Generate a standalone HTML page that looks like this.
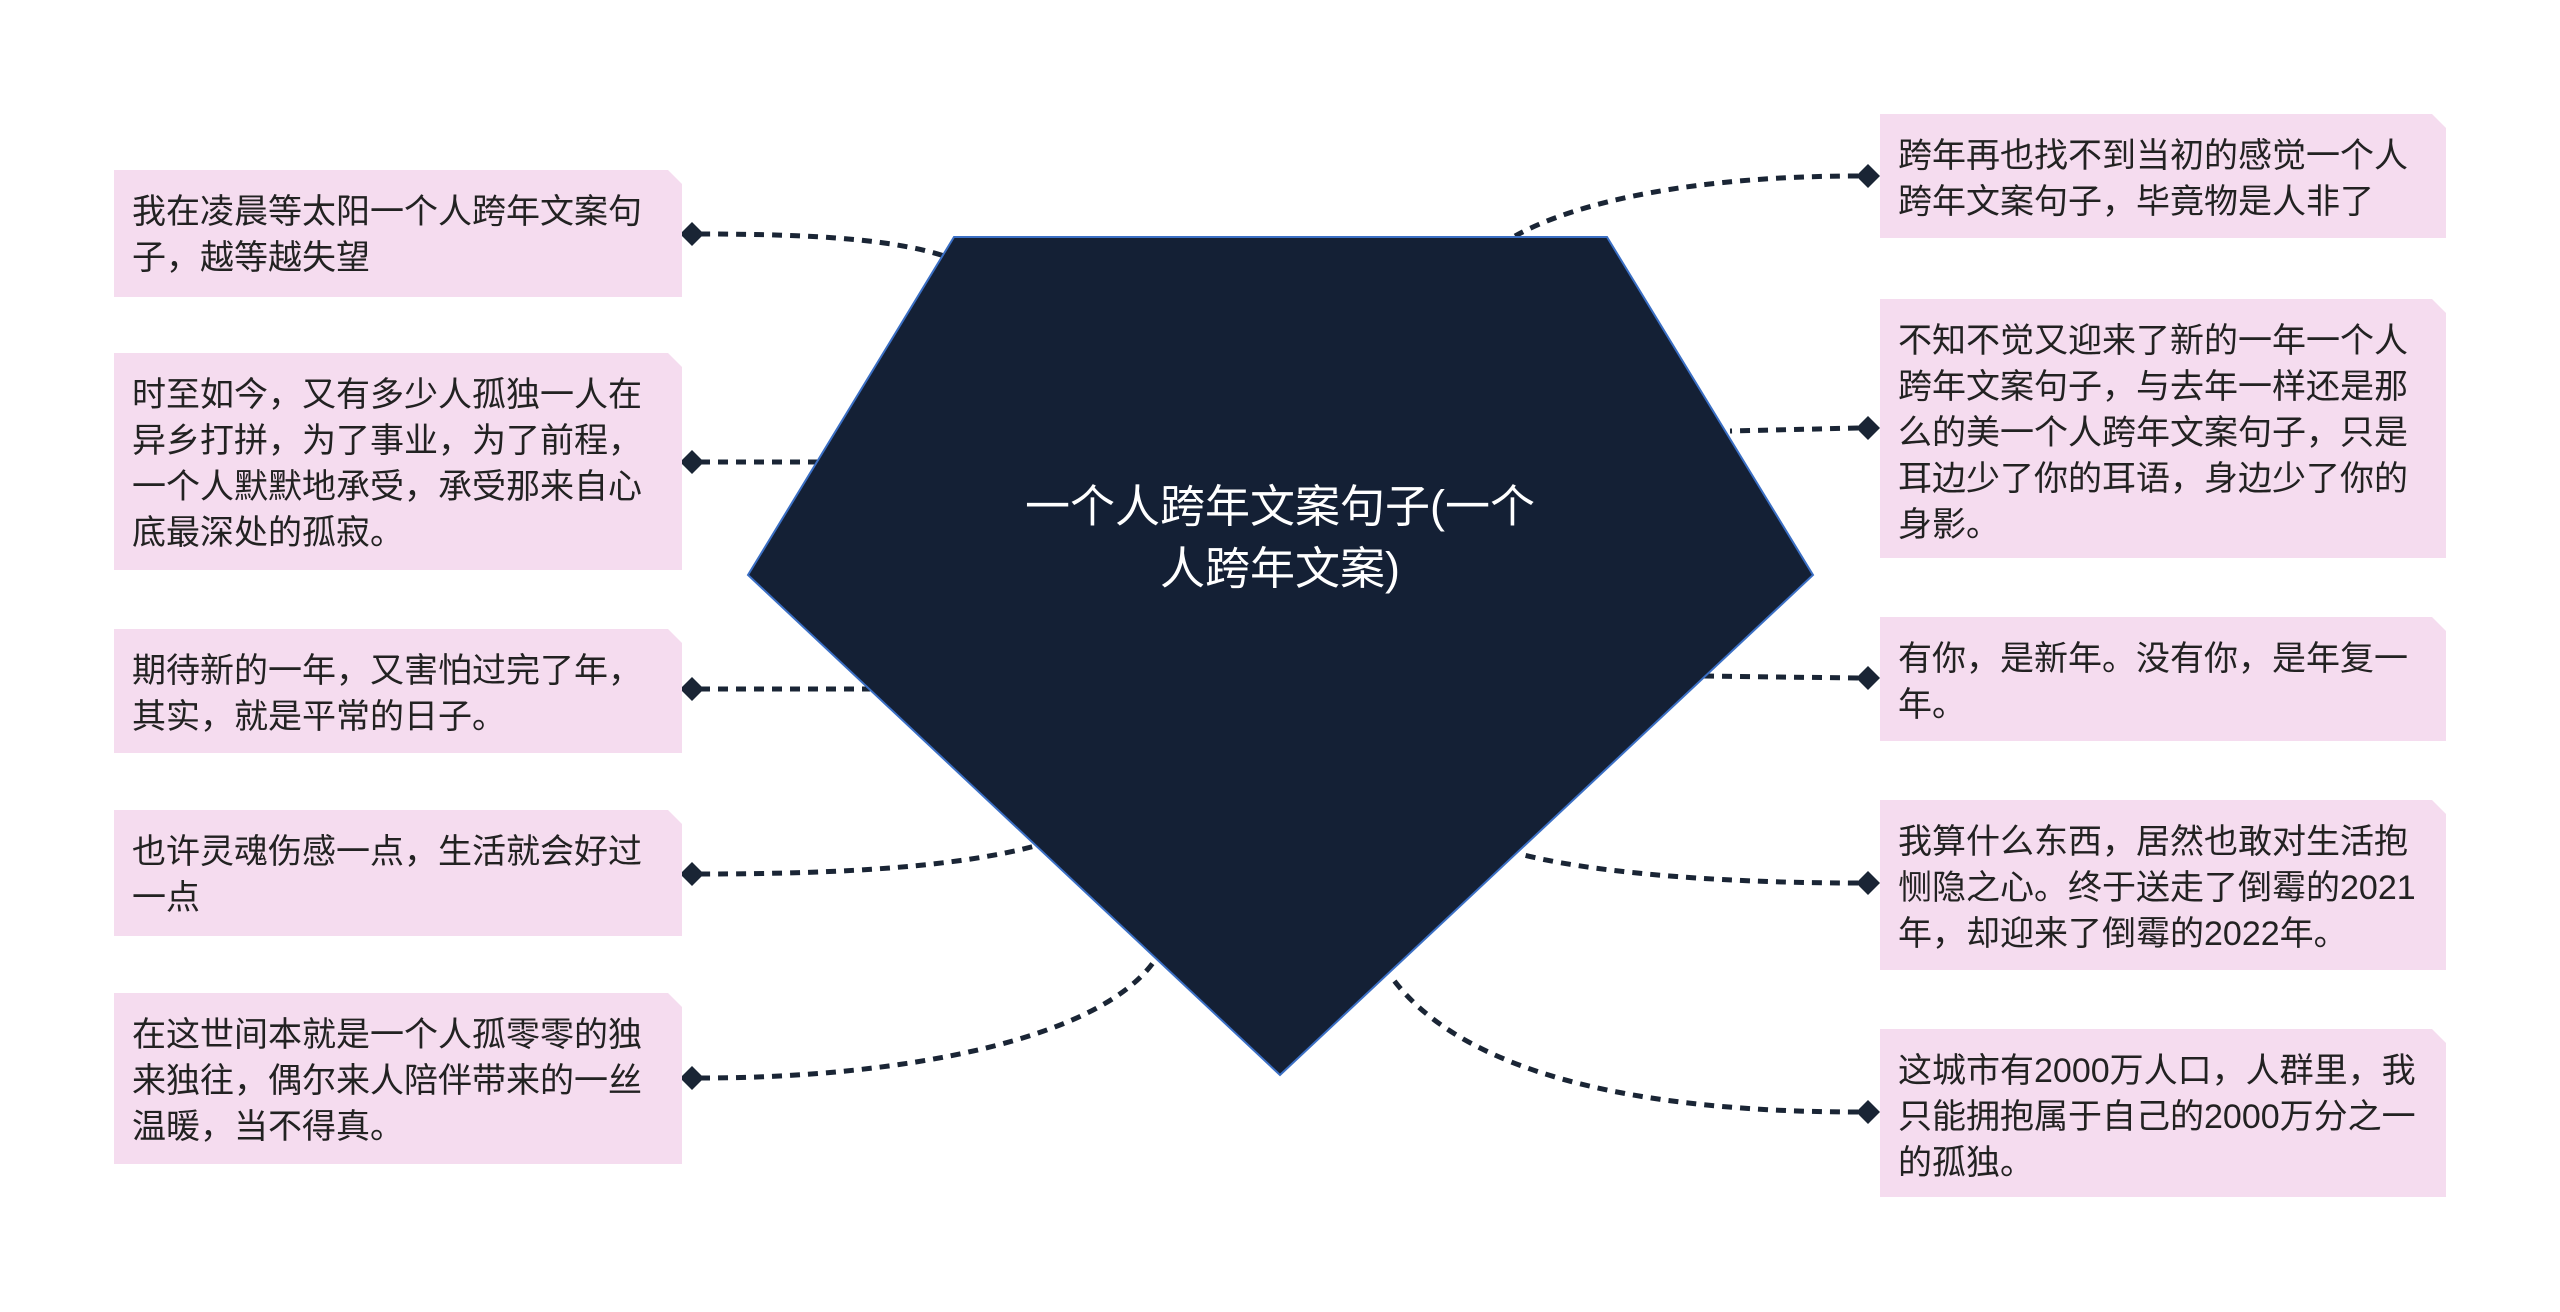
<!DOCTYPE html>
<html><head><meta charset="utf-8"><style>
html,body{margin:0;padding:0;background:#fff;}
body{width:2560px;height:1312px;position:relative;overflow:hidden;font-family:"Liberation Sans","Noto Sans CJK SC",sans-serif;}
.b{position:absolute;background:#f5dcef;color:#222;font-size:34px;line-height:46px;padding:19px 14px 0 18px;box-sizing:border-box;clip-path:polygon(0 0,calc(100% - 14px) 0,100% 14px,100% 100%,0 100%);}
svg{position:absolute;left:0;top:0;}
.c{position:absolute;left:960px;width:640px;text-align:center;top:476px;color:#fff;font-size:45px;line-height:62px;}
</style></head><body>
<svg width="2560" height="1312">
<g fill="none" stroke="#1a2535" stroke-width="5" stroke-dasharray="10 8">
<path d="M700 234 C820 234 900 240 950 258"/>
<path d="M700 462 L870 462"/>
<path d="M700 689 L870 689"/>
<path d="M700 874 C850 874 960 866 1035 846"/>
<path d="M700 1078 C900 1078 1100 1040 1155 960"/>
<path d="M1858 176 C1700 176 1580 200 1515 236"/>
<path d="M1858 428 L1730 431"/>
<path d="M1858 678 L1700 676"/>
<path d="M1858 883 C1700 883 1580 870 1520 854"/>
<path d="M1858 1112 C1600 1112 1450 1060 1390 975"/>
</g>
<polygon points="954,237 1607,237 1813,575 1280,1075 748,575" fill="#142035" stroke="#3b6fc4" stroke-width="2"/>
<g fill="#1a2535">
<polygon points="692,222 704,234 692,246 680,234"/>
<polygon points="692,450 704,462 692,474 680,462"/>
<polygon points="692,677 704,689 692,701 680,689"/>
<polygon points="692,862 704,874 692,886 680,874"/>
<polygon points="692,1066 704,1078 692,1090 680,1078"/>
<polygon points="1868,164 1880,176 1868,188 1856,176"/>
<polygon points="1868,416 1880,428 1868,440 1856,428"/>
<polygon points="1868,666 1880,678 1868,690 1856,678"/>
<polygon points="1868,871 1880,883 1868,895 1856,883"/>
<polygon points="1868,1100 1880,1112 1868,1124 1856,1112"/>
</g>
</svg>
<div class="c">一个人跨年文案句子(一个<br>人跨年文案)</div>
<div class="b" style="left:114px;top:170px;width:568px;height:127px;">我在凌晨等太阳一个人跨年文案句<br>子，越等越失望</div>
<div class="b" style="left:114px;top:353px;width:568px;height:217px;">时至如今，又有多少人孤独一人在<br>异乡打拼，为了事业，为了前程，<br>一个人默默地承受，承受那来自心<br>底最深处的孤寂。</div>
<div class="b" style="left:114px;top:629px;width:568px;height:124px;">期待新的一年，又害怕过完了年，<br>其实，就是平常的日子。</div>
<div class="b" style="left:114px;top:810px;width:568px;height:126px;">也许灵魂伤感一点，生活就会好过<br>一点</div>
<div class="b" style="left:114px;top:993px;width:568px;height:171px;">在这世间本就是一个人孤零零的独<br>来独往，偶尔来人陪伴带来的一丝<br>温暖，当不得真。</div>
<div class="b" style="left:1880px;top:114px;width:566px;height:124px;">跨年再也找不到当初的感觉一个人<br>跨年文案句子，毕竟物是人非了</div>
<div class="b" style="left:1880px;top:299px;width:566px;height:259px;">不知不觉又迎来了新的一年一个人<br>跨年文案句子，与去年一样还是那<br>么的美一个人跨年文案句子，只是<br>耳边少了你的耳语，身边少了你的<br>身影。</div>
<div class="b" style="left:1880px;top:617px;width:566px;height:124px;">有你，是新年。没有你，是年复一<br>年。</div>
<div class="b" style="left:1880px;top:800px;width:566px;height:170px;">我算什么东西，居然也敢对生活抱<br>恻隐之心。终于送走了倒霉的2021<br>年，却迎来了倒霉的2022年。</div>
<div class="b" style="left:1880px;top:1029px;width:566px;height:168px;">这城市有2000万人口，人群里，我<br>只能拥抱属于自己的2000万分之一<br>的孤独。</div>
</body></html>
